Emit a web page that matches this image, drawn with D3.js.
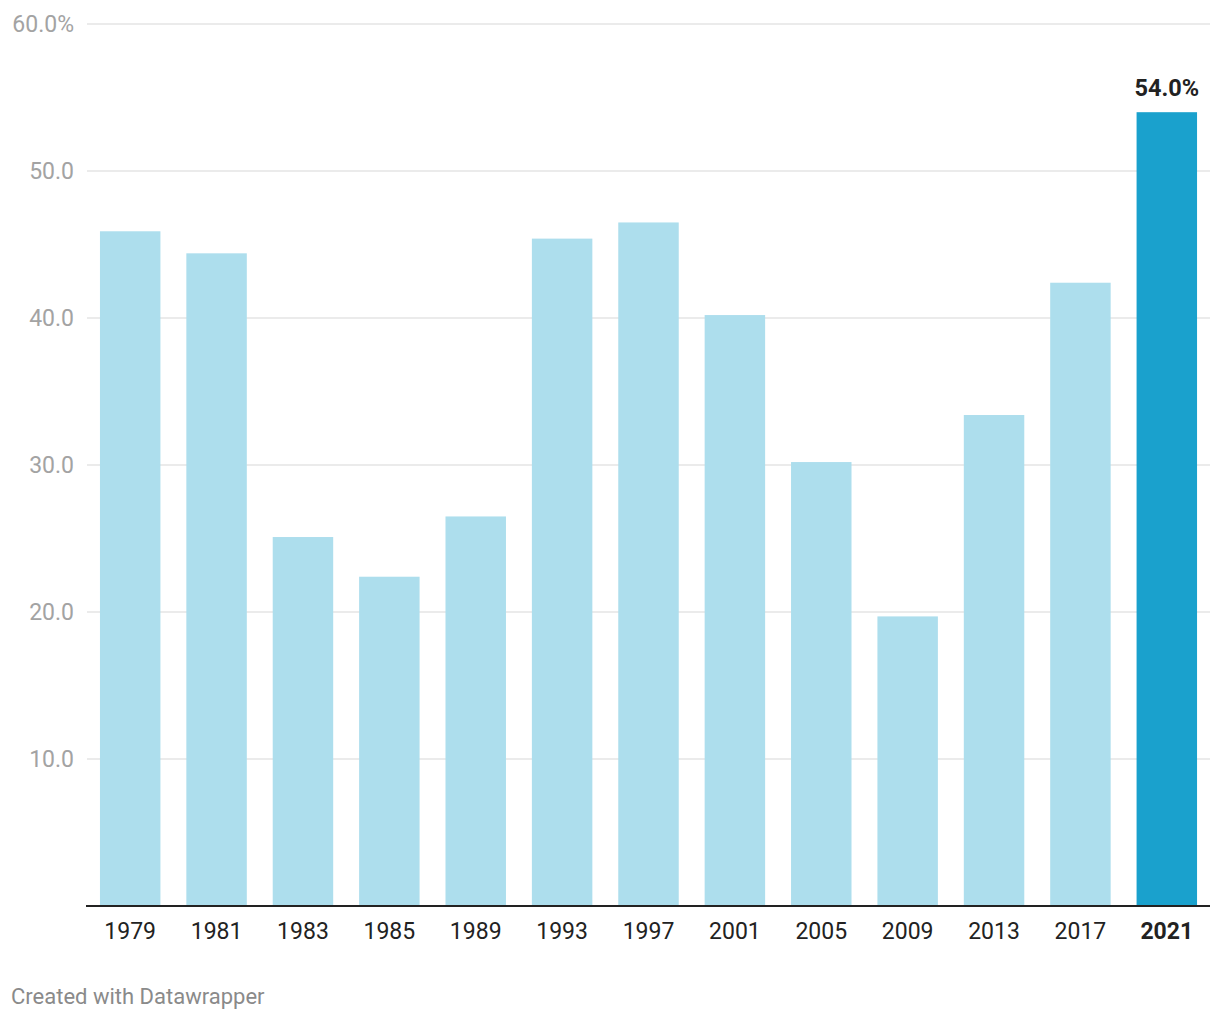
<!DOCTYPE html>
<html><head><meta charset="utf-8">
<script src="https://cdn.jsdelivr.net/npm/d3@7"></script>
<style>
body{margin:0;background:#fff;}
svg{display:block;font-family:Roboto,"Noto Sans",sans-serif;}
</style></head>
<body>
<svg id="c" width="1220" height="1020"></svg>
<script>
const years = ["1979","1981","1983","1985","1989","1993","1997","2001","2005","2009","2013","2017","2021"];
const values = [45.9,44.4,25.1,22.4,26.5,45.4,46.5,40.2,30.2,19.7,33.4,42.4,54.0];
const highlight = "2021";
const yTicks = [10,20,30,40,50,60];

(function(){
const svg = d3.select("#c");
const mLeft = 87, mRight = 1210, mTop = 24, mBottom = 906;
const x = d3.scaleBand().domain(years).range([mLeft,mRight]).paddingInner(0.3).paddingOuter(0.15);
const y = d3.scaleLinear().domain([0,60]).range([mBottom,mTop]);

const grid = svg.append("g");
grid.selectAll("line").data(yTicks).join("line")
  .attr("x1",mLeft).attr("x2",mRight)
  .attr("y1",d=>y(d)).attr("y2",d=>y(d))
  .attr("stroke","#e4e4e4").attr("stroke-width",1.5);
grid.selectAll("text").data(yTicks).join("text")
  .attr("x",74).attr("y",d=>y(d)+8)
  .attr("text-anchor","end").attr("font-size",23).attr("fill","#a3a3a3")
  .text(d=>d===60?"60.0%":d.toFixed(1));

svg.append("g").selectAll("rect").data(years).join("rect")
  .attr("x",d=>x(d)).attr("width",x.bandwidth())
  .attr("y",(d,i)=>y(values[i])).attr("height",(d,i)=>mBottom-y(values[i]))
  .attr("fill",d=>d===highlight?"#1aa1cd":"#addeed");

const hi = years.indexOf(highlight);
svg.append("text").attr("x",x(highlight)+x.bandwidth()/2).attr("y",y(values[hi])-16)
  .attr("text-anchor","middle").attr("font-size",23.5).attr("font-weight","bold").attr("fill","#222")
  .text(values[hi].toFixed(1)+"%");

svg.append("line").attr("x1",mLeft-1).attr("x2",mRight).attr("y1",mBottom).attr("y2",mBottom)
  .attr("stroke","#222").attr("stroke-width",2);

const xAxis = d3.axisBottom(x).tickSize(0).tickPadding(17);
const gx = svg.append("g").attr("transform",`translate(0,${mBottom})`).call(xAxis);
gx.select(".domain").remove();
gx.selectAll("text").attr("font-size",23).attr("font-family","Roboto").attr("fill","#222")
  .attr("font-weight",d=>d===highlight?"bold":"normal");

svg.append("text").attr("x",11).attr("y",1004).attr("font-size",22).attr("fill","#8a8a8a")
  .text("Created with Datawrapper");
})();
</script>
</body></html>
